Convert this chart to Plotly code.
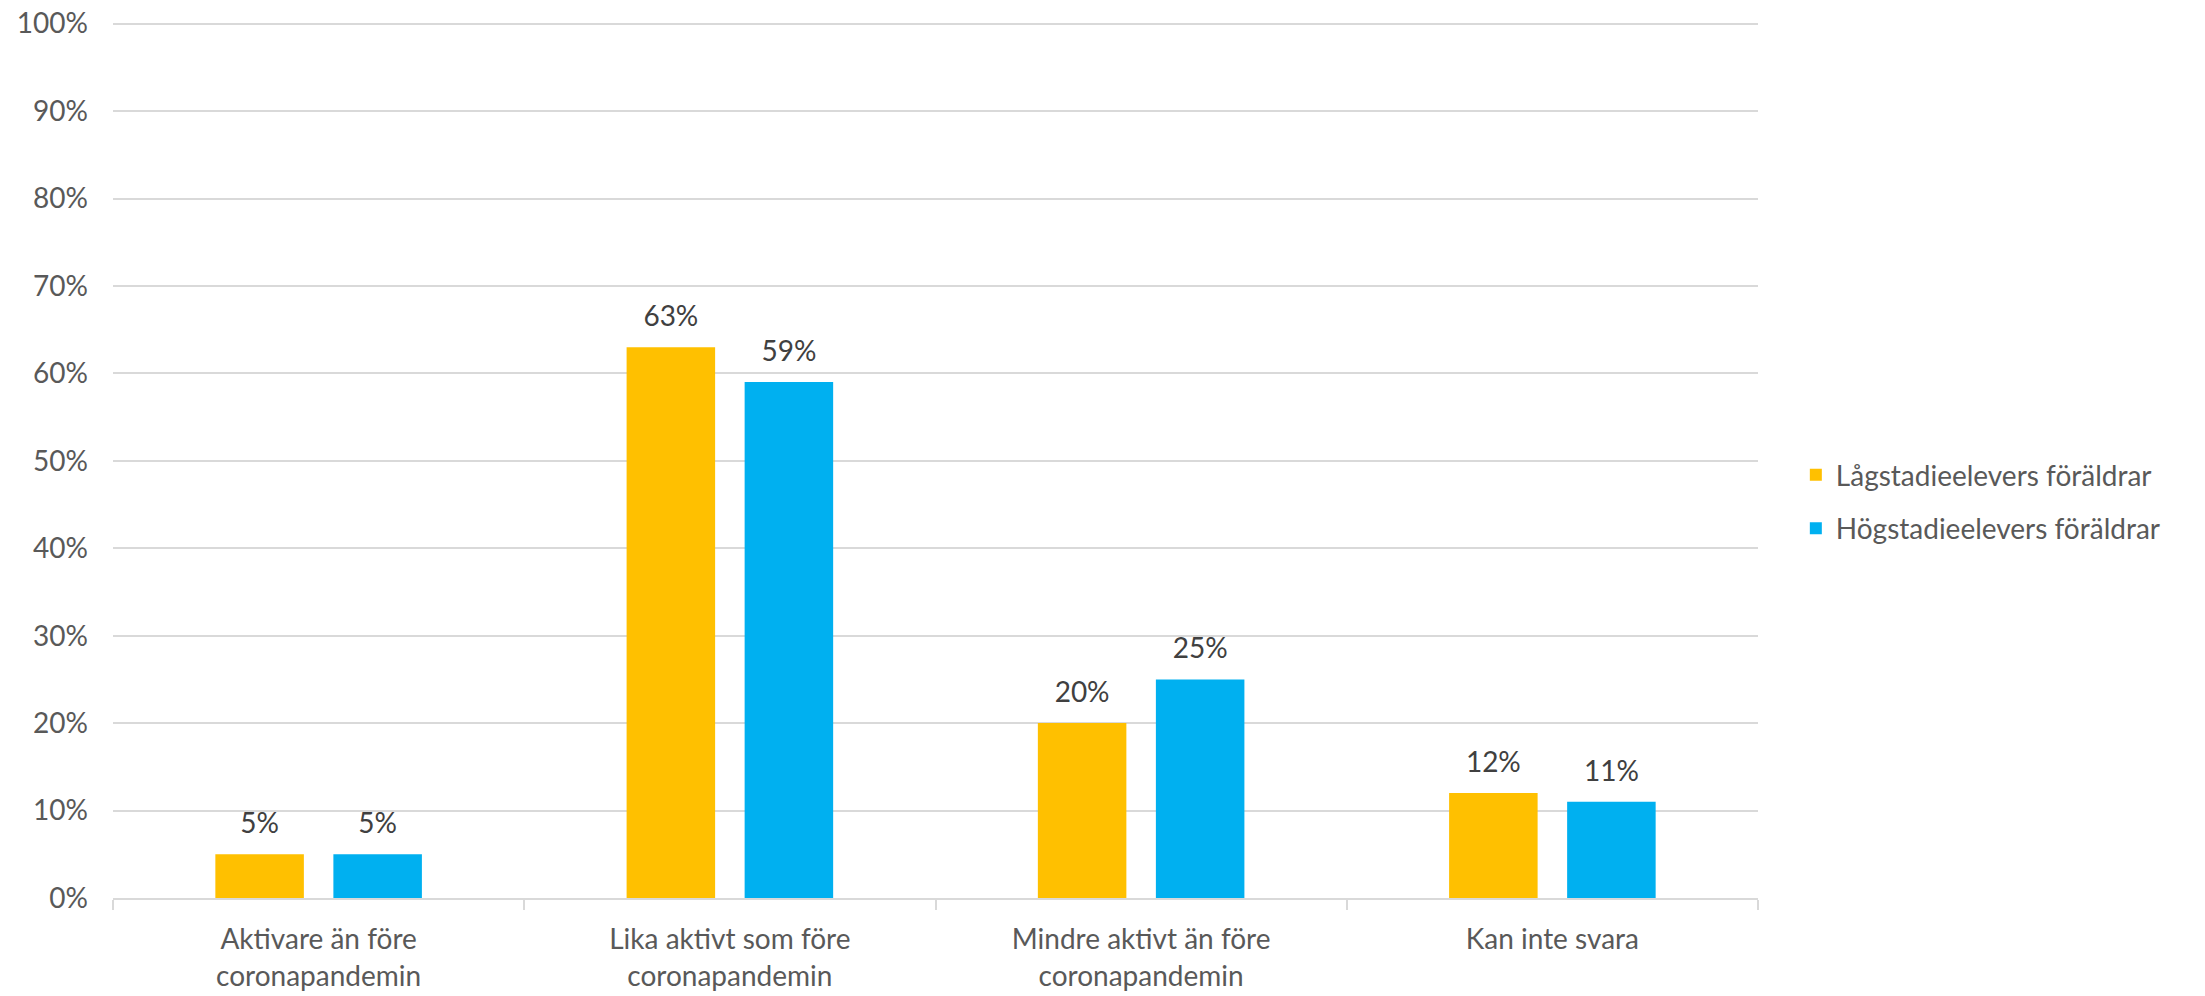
import plotly.graph_objects as go

categories = ["Aktivare än före<br>coronapandemin", "Lika aktivt som före<br>coronapandemin",
              "Mindre aktivt än före<br>coronapandemin", "Kan inte svara"]
lag = [5, 63, 20, 12]
hog = [5, 59, 25, 11]
series_names = ["Lågstadieelevers föräldrar", "Högstadieelevers föräldrar"]
colors = ["#FFC000", "#00B0F0"]
y_ticks = list(range(0, 101, 10))
y_ticktext = [f"{v}%" for v in y_ticks]

FONT = "Lato"
GAP = 0.426
fig = go.Figure()
for name, vals, col, grp in zip(series_names, [lag, hog], colors, ["a", "b"]):
    fig.add_trace(go.Bar(x=categories, y=vals, name=name, marker_color=col,
                         marker_line_width=0, offsetgroup=grp, legendgroup=grp,
                         hoverinfo="skip"))
for vals, grp in zip([lag, hog], ["a", "b"]):
    fig.add_trace(go.Scatter(x=categories, y=vals, mode="markers+text", offsetgroup=grp,
                             marker=dict(size=21, opacity=0),
                             text=[f"{v}%" for v in vals], textposition="top center",
                             textfont=dict(family=FONT, size=28, color="#404040"),
                             showlegend=False, cliponaxis=False, hoverinfo="skip"))

fig.update_layout(
    width=2205, height=996,
    margin=dict(l=113, r=447, t=21, b=98, autoexpand=False),
    paper_bgcolor="white", plot_bgcolor="white",
    barmode="group", bargap=GAP, bargroupgap=0.25,
    scattermode="group", scattergap=GAP,
    font=dict(family=FONT, size=28, color="#595959"),
    legend=dict(x=1.023, y=0.452, xanchor="left", yanchor="middle",
                font=dict(family=FONT, size=28, color="#595959"),
                tracegroupgap=14, itemwidth=30),
    showlegend=True,
)
fig.update_xaxes(showline=True, linecolor="#D9D9D9", linewidth=1.5,
                 ticks="outside", tickson="boundaries", ticklen=10, tickcolor="#D9D9D9",
                 tickwidth=1.5, tickfont=dict(family=FONT, size=28, color="#595959"),
                 ticklabelstandoff=16, showgrid=False, automargin=False)
fig.update_yaxes(range=[0, 100.3], tickvals=y_ticks, ticktext=y_ticktext,
                 showgrid=True, gridcolor="#D9D9D9", gridwidth=1.5, zeroline=False,
                 showline=False, ticklabelstandoff=24, automargin=False,
                 ticklabeloverflow="allow",
                 tickfont=dict(family=FONT, size=28, color="#595959"))
fig.write_html("out.html", config={"displayModeBar": False},
               post_script="document.body.style.margin='0';document.body.style.overflow='hidden';")
